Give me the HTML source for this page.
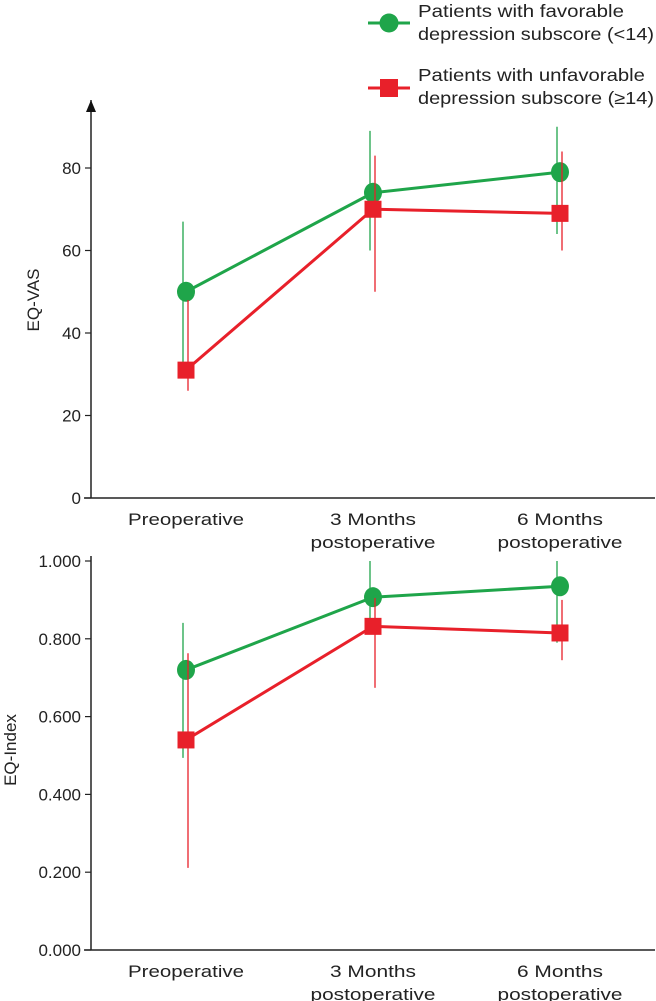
<!DOCTYPE html>
<html><head><meta charset="utf-8"><style>
body{margin:0;background:#fff;}
svg{display:block;font-family:"Liberation Sans",sans-serif;}
</style></head><body>
<svg id="c" width="656" height="1001">
<g id="legend">
<line x1="368" y1="23" x2="410" y2="23" stroke="#1fa54a" stroke-width="3"/>
<circle cx="389" cy="23" r="9.5" fill="#1fa54a"/>
<text x="418" y="17" font-size="17.5" fill="#222"><tspan textLength="206" lengthAdjust="spacingAndGlyphs">Patients with favorable</tspan><tspan x="418" y="40" textLength="236" lengthAdjust="spacingAndGlyphs">depression subscore (&lt;14)</tspan></text>
<line x1="368" y1="88" x2="410" y2="88" stroke="#e8202a" stroke-width="3"/>
<rect x="380" y="79" width="18" height="18" fill="#e8202a"/>
<text x="418" y="81" font-size="17.5" fill="#222"><tspan textLength="227" lengthAdjust="spacingAndGlyphs">Patients with unfavorable</tspan><tspan x="418" y="104" textLength="236" lengthAdjust="spacingAndGlyphs">depression subscore (≥14)</tspan></text>
</g>
</svg>
<script>
const categories = ["Preoperative", "3 Months|postoperative", "6 Months|postoperative"];
const vasFav = [50, 74, 79];
const vasFavLo = [29, 60, 64];
const vasFavHi = [67, 89, 90];
const vasUnf = [31, 70, 69];
const vasUnfLo = [26, 50, 60];
const vasUnfHi = [48, 83, 84];
const vasTicks = [0, 20, 40, 60, 80];
const idxFav = [0.72, 0.907, 0.935];
const idxFavLo = [0.494, 0.85, 0.79];
const idxFavHi = [0.841, 1.0, 1.0];
const idxUnf = [0.54, 0.832, 0.815];
const idxUnfLo = [0.211, 0.674, 0.745];
const idxUnfHi = [0.763, 0.905, 0.9];
const idxTicks = [0, 0.2, 0.4, 0.6, 0.8, 1.0];

const NS = "http://www.w3.org/2000/svg";
const svg = document.getElementById('c');
function mk(tag, attrs, parent){const e=document.createElementNS(NS,tag);for(const k in attrs)e.setAttribute(k,attrs[k]);(parent||svg).appendChild(e);return e;}
const catX = i => [186, 373, 560][i];
const G = "#1fa54a", R = "#e8202a";
const LW = {"Preoperative":116, "3 Months":86, "6 Months":86, "postoperative":125};

function panel(name, y0, yTop, vmax, ticks, fmt, ylabel, fav, favLo, favHi, unf, unfLo, unfHi, axTop, arrow){
  const y = v => y0 - (v / vmax) * (y0 - yTop);
  const g = mk('g', {});
  
  
  const ya = mk('line', {x1:91, y1:y0, x2:91, y2:axTop, stroke:'#222', 'stroke-width':1.5}, g);
  
  
  if (arrow) { const a = mk('path', {d:`M86 ${axTop+12} L91 ${axTop} L96 ${axTop+12} Z`, fill:'#111'}, g);
    
     }
  const xa = mk('line', {x1:84, y1:y0, x2:655, y2:y0, stroke:'#222', 'stroke-width':1.5}, g);
  
  
  ticks.forEach(t => {
    mk('line', {x1:85, y1:y(t), x2:91, y2:y(t), stroke:'#222', 'stroke-width':1.2}, g);
    const tx = mk('text', {x:81, y:y(t)+6, 'text-anchor':'end', 'font-size':17, fill:'#222'}, g);
    tx.textContent = fmt(t);
    
    
  });
  categories.forEach((c, i) => {
    const parts = c.split('|');
    parts.forEach((p, j) => {
      const tx = mk('text', {x:catX(i), y:y0+27+j*23, 'text-anchor':'middle', 'font-size':17, fill:'#222', textLength:LW[p]||100, lengthAdjust:'spacingAndGlyphs'}, g);
      tx.textContent = p;
      
      
    });
  });
  const yl = mk('text', {x:0, y:0, transform:`translate(${ylabel[1]},${ylabel[2]}) rotate(-90)`, 'text-anchor':'middle', 'font-size':17, fill:'#222'}, g);
  yl.textContent = ylabel[0];
  
  
  function series(vals, lo, hi, col, dx, shape, sname){
    vals.forEach((v, i) => {
      const eb = mk('line', {x1:catX(i)+dx, y1:y(lo[i]), x2:catX(i)+dx, y2:y(hi[i]), stroke:col, 'stroke-width':1.3}, g);
      
      
    });
    const pl = mk('polyline', {points: vals.map((v,i)=>`${catX(i)},${y(v)}`).join(' '), fill:'none', stroke:col, 'stroke-width':3}, g);
    
    
    vals.forEach((v, i) => {
      const m = shape === 'c' ? mk('ellipse', {cx:catX(i), cy:y(v), rx:9, ry:10, fill:col}, g)
                              : mk('rect', {x:catX(i)-8.5, y:y(v)-8.5, width:17, height:17, fill:col}, g);
      
      
    });
  }
  series(fav, favLo, favHi, G, -3, 'c', 'favorable');
  series(unf, unfLo, unfHi, R, 2, 's', 'unfavorable');
}
panel('eq-vas-panel', 498, 168, 80, vasTicks, t => String(t), ['EQ-VAS', 39, 300], vasFav, vasFavLo, vasFavHi, vasUnf, vasUnfLo, vasUnfHi, 100, true);
panel('eq-index-panel', 950, 561, 1, idxTicks, t => t.toFixed(3), ['EQ-Index', 16, 750], idxFav, idxFavLo, idxFavHi, idxUnf, idxUnfLo, idxUnfHi, 556, false);
</script>
</body></html>
